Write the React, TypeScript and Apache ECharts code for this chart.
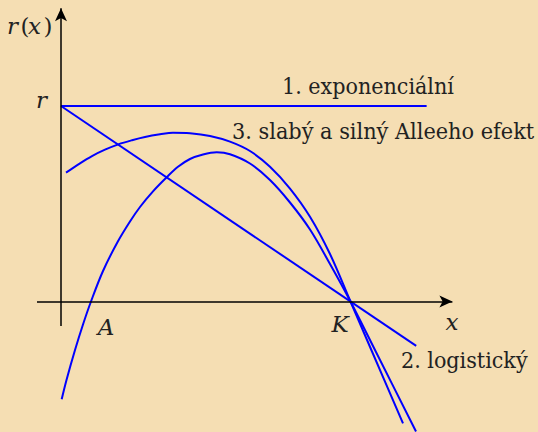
import React, { useEffect, useRef } from "react";
import * as echarts from "echarts";

// Units: K = 10 on the x axis, r = 10 on the y axis
const expX = [0, 12.63];
const expY = [10, 10];

const logX = [0, 12.27];
const logY = [10, -2.27];

const weakX = [0.173, 0.656, 1.071, 1.52, 1.979, 2.453, 2.902, 3.42, 3.869, 4.456, 5.147, 5.838, 6.528, 7.219, 7.91, 8.601, 9.292, 10, 10.743, 11.814];
const weakY = [6.59, 7.07, 7.44, 7.765, 8.04, 8.25, 8.414, 8.55, 8.634, 8.609, 8.47, 8.179, 7.698, 6.895, 5.78, 4.338, 2.43, 0, -2.558, -6.23];

const strongX = [0.024, 0.19, 0.484, 0.76, 1.036, 1.451, 1.945, 2.383, 2.729, 3.178, 3.651, 4.041, 4.456, 4.905, 5.378, 5.838, 6.528, 7.219, 7.91, 8.601, 9.292, 10, 10.881, 12.263];
const strongY = [-5.003, -4.015, -2.481, -1.176, 0, 1.56, 3.018, 4.092, 4.834, 5.632, 6.353, 6.89, 7.289, 7.519, 7.632, 7.535, 7.059, 6.215, 5.064, 3.683, 1.918, 0, -2.583, -6.65];

const xAxisSpan = [-0.83, 13.52];
const yAxisSpan = [-1.25, 15.0];

const labelExp = "1. exponenciální";
const labelLog = "2. logistický";
const labelAllee = "3. slabý a silný Alleeho efekt";

const zip = (xs: number[], ys: number[]) => xs.map((x, i) => [x, ys[i]]);

const W = 538;
const H = 432;
const TXT = "#222";
const SERIF = "DejaVu Serif";
const SERIF_C = "DejaVu Serif Condensed";

export default function App() {
  const ref = useRef<HTMLDivElement>(null);
  useEffect(() => {
    if (!ref.current) return;
    const chart = echarts.init(ref.current, undefined, { renderer: "svg" });
    const blue = "#0000ff";
    const curve = (name: string, data: number[][], smooth: number | boolean) => ({
      name,
      type: "line",
      data,
      showSymbol: false,
      symbol: "none",
      smooth,
      clip: false,
      lineStyle: { color: blue, width: 2 },
      silent: true,
    });
    const txt = (
      text: string,
      x: number,
      y: number,
      size: number,
      italic: boolean,
      align = "left",
      family = SERIF
    ) => ({
      type: "text",
      x,
      y,
      silent: true,
      style: {
        text,
        fontFamily: family,
        fontSize: size,
        fontStyle: italic ? "italic" : "normal",
        fill: TXT,
        align,
        verticalAlign: "middle",
      },
    });
    chart.setOption({
      animation: false,
      backgroundColor: "#f5deb3",
      grid: { left: 0, right: 0, top: 0, bottom: 0, containLabel: false },
      xAxis: { type: "value", min: -2.107, max: 16.477, show: false },
      yAxis: { type: "value", min: -6.675, max: 15.422, show: false },
      series: [
        {
          name: "axes",
          type: "line",
          data: [],
          silent: true,
          markLine: {
            silent: true,
            animation: false,
            symbol: ["none", "arrow"],
            symbolSize: [9, 13],
            label: { show: false },
            lineStyle: { color: "#000", width: 1.5, type: "solid" },
            emphasis: { disabled: true },
            data: [
              [{ coord: [xAxisSpan[0], 0] }, { coord: [xAxisSpan[1], 0] }],
              [{ coord: [0, yAxisSpan[0]] }, { coord: [0, yAxisSpan[1]] }],
            ],
          },
        },
        curve("exp", zip(expX, expY), false),
        curve("log", zip(logX, logY), false),
        curve("weak", zip(weakX, weakY), 0.35),
        curve("strong", zip(strongX, strongY), 0.35),
      ],
      graphic: [
        txt("r", 7, 26, 23, true),
        txt("(", 20.5, 26, 23, false),
        txt("x", 28, 26, 23, true),
        txt(")", 43.5, 26, 23, false),
        txt("r", 36, 100, 23, true),
        txt("A", 106, 327, 23, true, "center"),
        txt("K", 340, 324, 23, true, "center"),
        txt("x", 452, 322, 23, true, "center"),
        txt(labelExp, 282, 86, 23, false, "left", SERIF_C),
        txt(labelAllee, 232, 130, 23.2, false, "left", SERIF_C),
        txt(labelLog, 401, 360, 23, false, "left", SERIF_C),
      ],
    });
    return () => chart.dispose();
  }, []);
  return (
    <div
      ref={ref}
      style={{ position: "fixed", left: 0, top: 0, width: W, height: H, background: "#f5deb3" }}
    />
  );
}
